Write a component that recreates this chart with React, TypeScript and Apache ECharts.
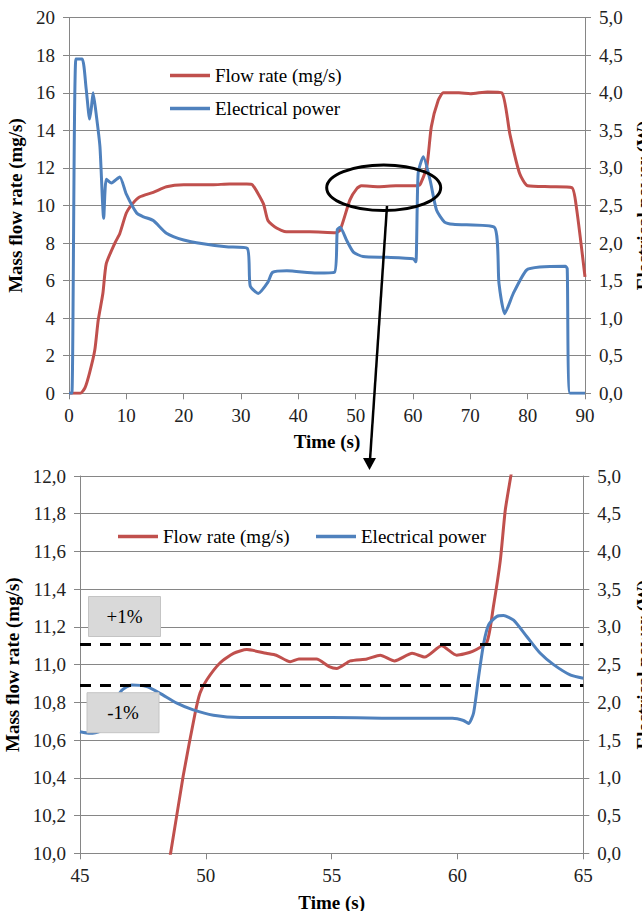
import React, { useEffect, useRef } from "react";
import * as echarts from "echarts";

// ---------- Top chart (0–90 s) ----------
const topFlowTime = [0, 2, 2.8, 3.6, 4.5, 5.1, 5.9, 6.5, 8, 8.85, 10, 11.1, 12.3, 14.7, 17, 20, 25, 28, 31, 32, 33.9, 34.7, 36.2, 37.9, 42, 46.5, 47.3, 49, 50.2, 51, 54, 57, 60.5, 61.2, 62.4, 63.2, 64.4, 65.3, 68, 70, 73, 75.5, 76.9, 78.6, 80, 84, 87.7, 88.5, 90];
const topFlowValue = [0, 0, 0.3, 1.1, 2.3, 3.9, 5.3, 6.9, 8.0, 8.5, 9.6, 10.1, 10.45, 10.7, 11.0, 11.1, 11.1, 11.15, 11.15, 11.1, 10.1, 9.2, 8.8, 8.6, 8.6, 8.55, 8.7, 10.3, 10.9, 11.05, 11.0, 11.05, 11.05, 11.1, 12.05, 14.2, 15.6, 16.0, 16.0, 15.95, 16.05, 16.0, 13.8, 11.7, 11.05, 11.0, 10.95, 9.9, 6.2];

const topPowerTime = [0, 0.5, 1.2, 2.3, 3.0, 3.6, 3.9, 4.2, 4.8, 5.4, 6.05, 6.5, 7.4, 8.85, 10, 11.8, 13, 14.7, 17, 20, 23.4, 27.4, 31.1, 31.6, 33, 34.7, 35.5, 38, 43.2, 46.3, 46.8, 47.3, 48.4, 49.6, 51.3, 55.4, 60, 60.5, 60.9, 61.8, 63, 64.1, 65.5, 67, 74.2, 75, 76, 77.5, 79.8, 82.1, 86.6, 86.9, 87.4, 90];
const topPowerValue = [0, 0, 4.45, 4.45, 4.05, 3.65, 3.8, 4.0, 3.68, 3.28, 2.33, 2.85, 2.8, 2.88, 2.65, 2.4, 2.35, 2.3, 2.13, 2.04, 1.99, 1.95, 1.93, 1.43, 1.33, 1.48, 1.61, 1.63, 1.6, 1.61, 2.18, 2.21, 2.04, 1.88, 1.82, 1.81, 1.79, 1.75, 2.93, 3.15, 2.83, 2.44, 2.28, 2.25, 2.21, 1.46, 1.06, 1.33, 1.64, 1.68, 1.69, 1.66, 0, 0];

// ---------- Bottom chart (zoom 45–65 s) ----------
const zoomFlowTime = [48.3, 48.6, 49.1, 49.57, 49.77, 50.04, 50.57, 51.1, 51.63, 52.4, 52.8, 53.35, 53.7, 54.4, 54.9, 55.2, 55.74, 56.4, 56.93, 57.5, 58.2, 58.7, 59.37, 59.97, 60.6, 61.17, 61.43, 61.7, 61.9, 62.12, 62.3];
const zoomFlowValue = [9.8, 10.0, 10.41, 10.74, 10.85, 10.92, 11.01, 11.06, 11.08, 11.06, 11.05, 11.015, 11.03, 11.03, 10.99, 10.98, 11.02, 11.03, 11.05, 11.02, 11.06, 11.04, 11.1, 11.05, 11.07, 11.12, 11.31, 11.55, 11.82, 12.0, 12.15];

const zoomPowerTime = [45, 45.4, 45.8, 46.2, 46.66, 47.06, 47.65, 48.18, 48.85, 49.5, 50.3, 51.36, 53, 55, 57, 59, 59.8, 60.24, 60.44, 60.64, 60.84, 61.04, 61.24, 61.57, 61.83, 62.23, 62.76, 63.29, 63.82, 64.5, 65];
const zoomPowerValue = [1.61, 1.59, 1.62, 1.9, 2.16, 2.23, 2.21, 2.12, 1.99, 1.9, 1.83, 1.8, 1.8, 1.8, 1.79, 1.79, 1.79, 1.76, 1.72, 1.86, 2.34, 2.78, 3.03, 3.14, 3.15, 3.09, 2.87, 2.65, 2.5, 2.36, 2.32];

const toleranceLines = [11.11, 10.89];
const toleranceLabels = ["+1%", "-1%"];

const FLOW_NAME = "Flow rate (mg/s)";
const POWER_NAME = "Electrical power";

const RED = "#c0504d";
const BLUE = "#4f81bd";
const GRID = "#868686";
const FONT = "'Liberation Serif', 'Times New Roman', 'DejaVu Serif', serif";

const pairs = (xs: number[], ys: number[]) => xs.map((x, i) => [x, ys[i]]);
const comma1 = (v: number) => v.toFixed(1).replace(".", ",");

export default function App() {
  const ref = useRef<HTMLDivElement>(null);
  useEffect(() => {
    if (!ref.current) return;
    const chart = echarts.init(ref.current, undefined, { renderer: "svg" });

    const labelStyle = { fontFamily: FONT, fontSize: 19, color: "#222" };
    const nameStyle = { fontFamily: FONT, fontSize: 19, fontWeight: "bold" as const, color: "#000" };
    const axisLine = { show: true, lineStyle: { color: GRID, width: 1 } };
    const axisTick = { show: true, length: 6, lineStyle: { color: GRID } };

    const xBase = (gridIndex: number, min: number, max: number, interval: number, gap: number) => ({
      type: "value",
      gridIndex,
      min,
      max,
      interval,
      name: "Time (s)",
      nameLocation: "middle",
      nameGap: gap,
      nameTextStyle: nameStyle,
      axisLine,
      axisTick,
      axisLabel: { ...labelStyle, margin: 13 },
      splitLine: { show: false },
    });

    const yLeft = (gridIndex: number, min: number, max: number, interval: number, gap: number, fmt: (v: number) => string) => ({
      type: "value",
      gridIndex,
      position: "left",
      min,
      max,
      interval,
      name: "Mass flow rate (mg/s)",
      nameLocation: "middle",
      nameGap: gap,
      nameTextStyle: nameStyle,
      axisLine,
      axisTick,
      axisLabel: { ...labelStyle, margin: 14, formatter: fmt },
      splitLine: { show: true, lineStyle: { color: GRID, width: 1 } },
    });

    const yRight = (gridIndex: number, gap: number) => ({
      type: "value",
      gridIndex,
      position: "right",
      min: 0,
      max: 5,
      interval: 0.5,
      name: "Electrical power (W)",
      nameLocation: "middle",
      nameGap: gap,
      nameTextStyle: nameStyle,
      axisLine,
      axisTick,
      axisLabel: { ...labelStyle, margin: 14, formatter: comma1 },
      splitLine: { show: false },
    });

    const line = (name: string, color: string, x: number, y: number, data: number[][], extra: any = {}) => ({
      type: "line",
      name,
      xAxisIndex: x,
      yAxisIndex: y,
      data,
      symbol: "none",
      smooth: 0.2,
      clip: true,
      lineStyle: { color, width: 3 },
      itemStyle: { color },
      ...extra,
    });

    const legendText = { fontFamily: FONT, fontSize: 19, color: "#000" };
    const legendBase = {
      icon: "rect",
      itemWidth: 40,
      itemHeight: 3.5,
      textStyle: legendText,
      selectedMode: false,
    };

    const option: any = {
      animation: false,
      backgroundColor: "#fff",
      grid: [
        { left: 69, top: 17.7, width: 516, height: 375.6, outerBoundsMode: "none", containLabel: false },
        { left: 80, top: 476, width: 503.3, height: 377.3, outerBoundsMode: "none", containLabel: false },
      ],
      xAxis: [xBase(0, 0, 90, 10, 39), xBase(1, 45, 65, 5, 40)],
      yAxis: [
        yLeft(0, 0, 20, 2, 44, (v: number) => String(v)),
        yRight(0, 48),
        yLeft(1, 10, 12, 0.2, 55, comma1),
        yRight(1, 51),
      ],
      legend: [
        { ...legendBase, orient: "vertical", left: 165, top: 61, itemGap: 14, data: [FLOW_NAME, POWER_NAME] },
        { ...legendBase, left: 113, top: 522, data: [FLOW_NAME] },
        { ...legendBase, left: 311, top: 522, data: [POWER_NAME] },
      ],
      series: [
        line(FLOW_NAME, RED, 0, 0, pairs(topFlowTime, topFlowValue)),
        line(POWER_NAME, BLUE, 0, 1, pairs(topPowerTime, topPowerValue)),
        line(FLOW_NAME, RED, 1, 2, pairs(zoomFlowTime, zoomFlowValue), {
          markLine: {
            silent: true,
            symbol: "none",
            label: { show: false },
            lineStyle: { color: "#000", width: 3, type: [11, 9] },
            data: toleranceLines.map((v) => ({ yAxis: v })),
          },
        }),
        line(POWER_NAME, BLUE, 1, 3, pairs(zoomPowerTime, zoomPowerValue)),
      ],
      graphic: [
        {
          type: "ellipse",
          shape: { cx: 383.7, cy: 187.8, rx: 57, ry: 22.8 },
          style: { fill: "none", stroke: "#000", lineWidth: 3 },
          z: 100,
        },
        {
          type: "line",
          shape: { x1: 387, y1: 206, x2: 370, y2: 460 },
          style: { stroke: "#000", lineWidth: 2.5 },
          z: 100,
        },
        {
          type: "polygon",
          shape: { points: [[363, 458], [376, 458], [369.5, 470]] },
          style: { fill: "#000" },
          z: 100,
        },
        { type: "rect", z: 100, shape: { x: 88.5, y: 596.5, width: 72, height: 40 }, style: { fill: "#d9d9d9", stroke: "#c4c4c4", lineWidth: 1 } },
        { type: "text", z: 101, x: 124.5, y: 616.5, style: { text: toleranceLabels[0], fontFamily: FONT, fontSize: 19, fill: "#000", align: "center", verticalAlign: "middle" } },
        { type: "rect", z: 100, shape: { x: 87, y: 692.7, width: 72, height: 40 }, style: { fill: "#d9d9d9", stroke: "#c4c4c4", lineWidth: 1 } },
        { type: "text", z: 101, x: 123, y: 712.7, style: { text: toleranceLabels[1], fontFamily: FONT, fontSize: 19, fill: "#000", align: "center", verticalAlign: "middle" } },
      ],
    };

    chart.setOption(option);
    return () => chart.dispose();
  }, []);

  return <div ref={ref} style={{ position: "fixed", left: 0, top: 0, width: 642, height: 911, background: "#fff" }} />;
}
